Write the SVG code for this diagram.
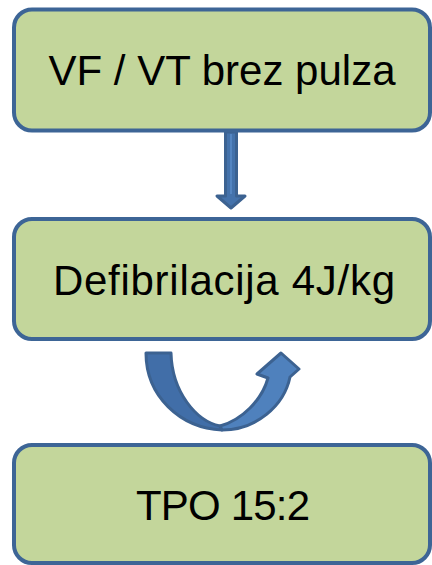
<svg xmlns="http://www.w3.org/2000/svg" width="432" height="565" viewBox="0 0 432 565">
  <style>
    .box { fill: #c3d69b; stroke: #3d6596; stroke-width: 4; }
    .label { font-family: "Liberation Sans", Arial, sans-serif; font-size: 42px; fill: #000; text-anchor: middle; }
    .arrow { stroke: #3c6291; stroke-width: 3; stroke-linejoin: round; }
  </style>
  <rect width="432" height="565" fill="#ffffff"/>

  <g id="connectors">
    <!-- straight down arrow -->
    <path class="arrow" fill="#4472ab" d="M225.5,132 L236.5,132 L236.5,196 L245,196 L231,208 L217,196 L225.5,196 Z"/>
    <line x1="231" y1="134" x2="231" y2="194" stroke="#5a8cc8" stroke-width="1.5"/>
    <!-- curved loop arrow: back half (left arm) -->
    <path class="arrow" fill="#416ea8" d="M146,353 L171,353 C172,392 196,421 220,426 L222,430 C180,428 146,396 146,353 Z"/>
    <!-- curved loop arrow: front half (right arm with head) -->
    <path class="arrow" fill="#4f81bd" d="M220,426 C242,420 262,400 268,378 L257,374 L281,353 L299,369 L290,377 C284,406 256,430 222,430 Z"/>
  </g>

  <g id="node-vf-vt">
    <rect class="box" x="14" y="9.5" width="416" height="121" rx="18"/>
    <text class="label" x="222" y="85" textLength="347">VF / VT brez pulza</text>
  </g>

  <g id="node-defibrilacija">
    <rect class="box" x="14" y="219" width="416" height="120" rx="18"/>
    <text class="label" x="224" y="295" textLength="342">Defibrilacija 4J/kg</text>
  </g>

  <g id="node-tpo">
    <rect class="box" x="14" y="445" width="416" height="118" rx="18"/>
    <text class="label" x="223" y="520" textLength="174">TPO 15:2</text>
  </g>
</svg>
